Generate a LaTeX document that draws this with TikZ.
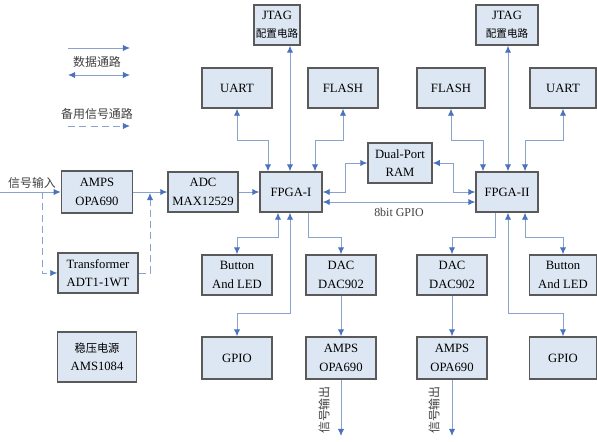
\documentclass[tikz,border=0pt]{standalone}
\usepackage{fontspec}
\setmainfont{Liberation Serif}
\newfontfamily\cjk{Noto Sans CJK SC}
\usetikzlibrary{arrows.meta}
\definecolor{boxfill}{HTML}{DDE7F3}
\definecolor{boxline}{HTML}{5A5A5A}
\definecolor{wire}{HTML}{8AA3CC}
\definecolor{tipblue}{HTML}{4A72C0}
\tikzstyle{block} = [
    rectangle,
    minimum width=1.75cm,
    minimum height=1cm,
    inner sep=1pt,
    align=center,
    fill=boxfill,
    draw=boxline,
    line width=1pt,
    font=\fontsize{9}{13}\selectfont
]
\tikzstyle{arrow} = [draw=wire, line width=0.7pt, -{Latex[length=5pt,width=4.5pt,color=tipblue]}]
\tikzstyle{biarrow} = [draw=wire, line width=0.7pt, {Latex[length=5pt,width=4.5pt,color=tipblue]}-{Latex[length=5pt,width=4.5pt,color=tipblue]}]
\tikzstyle{dasharrow} = [arrow, dashed, dash pattern=on 5pt off 3pt]
\tikzstyle{note} = [font=\cjk\fontsize{8.5}{10}\selectfont, text=black!75]

\begin{document}
\begin{tikzpicture}[x=0.025cm, y=-0.025cm]
\useasboundingbox (0,0) rectangle (597,441);

% legend
\coordinate (legA1) at (68,48);
\coordinate (legA2) at (130,48);
\coordinate (legB1) at (68,75);
\coordinate (legB2) at (130,75);
\coordinate (legC1) at (68,126);
\coordinate (legC2) at (130,126);
\node (legText1) [note] at (97,62) {数据通路};
\node (legText2) [note] at (97,114) {备用信号通路};
\draw [arrow] (legA1) -- (legA2);
\draw [biarrow] (legB1) -- (legB2);
\draw [dasharrow] (legC1) -- (legC2);

% upper row
\node (jtagA) [block, minimum width=1.15cm] at (277,25) {JTAG\\{\cjk\fontsize{7.5}{9}\selectfont 配置电路}};
\node (uartA) [block] at (237,88) {UART};
\node (flashA) [block] at (343,88) {FLASH};
\node (jtagB) [block, minimum width=1.55cm] at (507,25) {JTAG\\{\cjk\fontsize{7.5}{9}\selectfont 配置电路}};
\node (flashB) [block, minimum width=1.7cm] at (451,88) {FLASH};
\node (uartB) [block, minimum width=1.65cm] at (563,88) {UART};

% signal chain
\node (ampIn) [block, minimum width=1.78cm, minimum height=1.05cm] at (97,192) {AMPS\\OPA690};
\node (trans) [block, minimum width=2cm] at (98,273) {Transformer\\ADT1-1WT};
\node (adc) [block] at (203,192) {ADC\\MAX12529};
\node (fpgaA) [block, minimum width=1.55cm] at (291,192) {FPGA-I};
\node (ram) [block, minimum width=1.6cm] at (400,163) {Dual-Port\\RAM};
\node (fpgaB) [block, minimum width=1.55cm] at (507,192) {FPGA-II};

% lower rows
\node (btnA) [block] at (237,275) {Button\\And LED};
\node (dacA) [block] at (341,275) {DAC\\DAC902};
\node (dacB) [block] at (452,275) {DAC\\DAC902};
\node (btnB) [block, minimum width=1.68cm] at (563,275) {Button\\And LED};
\node (gpioA) [block, minimum height=1.05cm] at (237,358) {GPIO};
\node (ampA) [block, minimum height=1.05cm] at (341,358) {AMPS\\OPA690};
\node (ampB) [block, minimum height=1.05cm] at (452,358) {AMPS\\OPA690};
\node (gpioB) [block, minimum width=1.68cm, minimum height=1.05cm] at (563,358) {GPIO};
\node (reg) [block, minimum width=1.98cm, minimum height=1.25cm] at (97,357) {{\cjk\fontsize{8}{9}\selectfont 稳压电源}\\AMS1084};

% input and backup path
\coordinate (src) at (0,192);
\coordinate (tap) at (42,192);
\coordinate (merge) at (150,193);
\node (inLabel) [note] at (32,183) {信号输入};
\draw [arrow] (src) -- (ampIn);
\draw [dasharrow] (tap) |- (trans.west);
\draw [dasharrow] (trans.east) -| (merge);
\draw [arrow] (ampIn) -- (adc);
\draw [arrow] (adc) -- (fpgaA);

% FPGA-I
\draw [biarrow] (uartA.south) |- (268,140) -- (fpgaA.north -| 268,0);
\draw [biarrow] (jtagA.south -| 290,0) -- (fpgaA.north -| 290,0);
\draw [biarrow] (flashA.south) |- (315,140) -- (fpgaA.north -| 315,0);
\draw [biarrow] (fpgaA.east) -| (345,163) -- (ram.west);
\draw [biarrow] (fpgaA.east |- 0,202) -- (fpgaB.west |- 0,202)
    node (busLabel) [midway, below=1pt, font=\fontsize{8.5}{10}\selectfont, text=black!75] {8bit GPIO};
\draw [biarrow] (fpgaA.south -| 278,0) |- (237,237) -- (btnA.north);
\draw [biarrow] (fpgaA.south -| 290,0) |- (237,313) -- (gpioA.north);
\draw [arrow] (fpgaA.south -| 308,0) |- (341,237) -- (dacA.north);
\draw [arrow] (dacA) -- (ampA);
\coordinate (outA) at (341,436);
\draw [arrow] (ampA) -- (outA);
\node (outLabelA) [note, rotate=90] at (324,410) {信号输出};

% FPGA-II
\draw [biarrow] (flashB.south) |- (483,140) -- (fpgaB.north -| 483,0);
\draw [biarrow] (jtagB.south -| 508,0) -- (fpgaB.north -| 508,0);
\draw [biarrow] (uartB.south) |- (525,140) -- (fpgaB.north -| 525,0);
\draw [biarrow] (ram.east) -| (453,192) -- (fpgaB.west);
\draw [arrow] (fpgaB.south -| 495,0) |- (452,237) -- (dacB.north);
\draw [biarrow] (fpgaB.south -| 508,0) |- (563,313) -- (gpioB.north);
\draw [biarrow] (fpgaB.south -| 525,0) |- (563,237) -- (btnB.north);
\draw [arrow] (dacB) -- (ampB);
\coordinate (outB) at (452,436);
\draw [arrow] (ampB) -- (outB);
\node (outLabelB) [note, rotate=90] at (434,410) {信号输出};

\end{tikzpicture}
\end{document}
